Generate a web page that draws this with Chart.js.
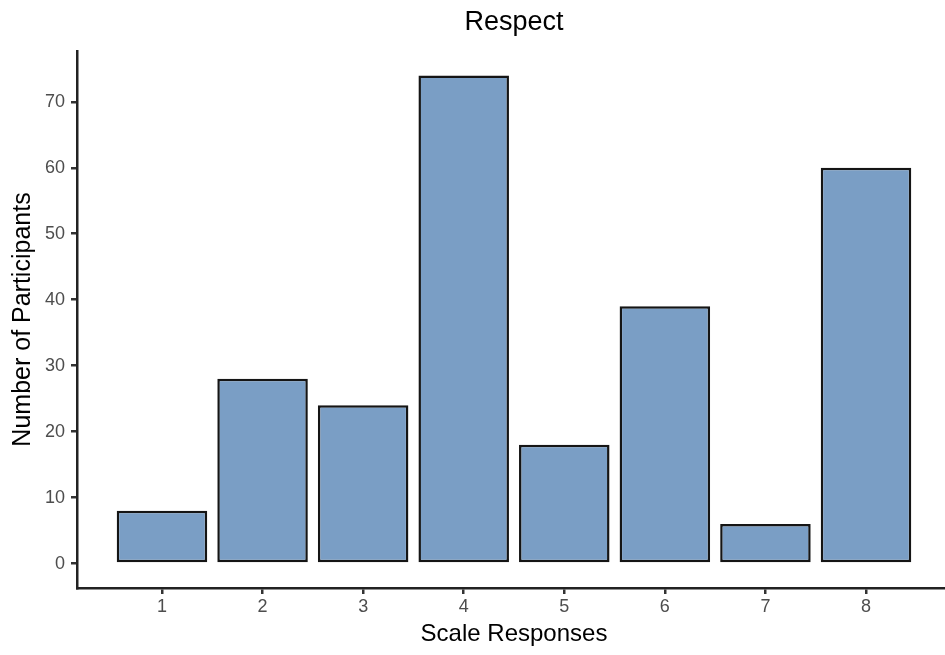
<!DOCTYPE html>
<html>
<head>
<meta charset="utf-8">
<script src="https://cdn.jsdelivr.net/npm/chart.js@4.4.1/dist/chart.umd.min.js"></script>
<style>
  html, body { margin: 0; padding: 0; overflow: hidden; background: #ffffff; width: 945px; height: 655px; }
  #wrap { width: 951px; height: 655px; }
</style>
</head>
<body>
<div id="wrap"><canvas id="c" width="951" height="655"></canvas></div>
<script>
// ---- data ----
const categories = [1, 2, 3, 4, 5, 6, 7, 8];
const counts = [8, 28, 24, 74, 18, 39, 6, 60];
const yTicks = [0, 10, 20, 30, 40, 50, 60, 70];
const titleText = 'Respect';
const xTitle = 'Scale Responses';
const yTitle = 'Number of Participants';

const FONT = "'Liberation Sans', Arial, Helvetica, sans-serif";
const points = categories.map((c, i) => ({ x: c, y: counts[i] }));

new Chart(document.getElementById('c'), {
  type: 'bar',
  data: {
    datasets: [{
      data: points,
      backgroundColor: '#7a9ec5',
      borderColor: '#151515',
      borderWidth: 2.5,
      borderSkipped: false,
      barPercentage: 0.9,
      categoryPercentage: 1.0
    }]
  },
  options: {
    responsive: false,
    animation: false,
    devicePixelRatio: 1,
    layout: { padding: 0 },
    plugins: {
      legend: { display: false },
      tooltip: { enabled: false },
      title: {
        display: true,
        text: titleText,
        fullSize: false,
        color: '#000000',
        font: { family: FONT, size: 27, weight: 'normal' },
        padding: { top: 6, bottom: 12.6 }
      }
    },
    scales: {
      x: {
        type: 'linear',
        min: 0.155,
        max: 8.845,
        offset: false,
        afterBuildTicks: s => { s.ticks = categories.map(v => ({ value: v })); },
        afterFit: s => { s.height = 67; },
        ticks: {
          color: '#4d4d4d',
          font: { family: FONT, size: 18 },
          padding: 2,
          maxRotation: 0,
          callback: v => String(v)
        },
        grid: {
          display: true,
          offset: false,
          drawOnChartArea: false,
          drawTicks: true,
          tickLength: 6,
          color: '#333333',
          lineWidth: 2.5
        },
        border: { display: true, color: '#222222', width: 2.5 },
        title: {
          display: true,
          text: xTitle,
          color: '#000000',
          font: { family: FONT, size: 24 },
          padding: { top: 0, bottom: 6.6 }
        }
      },
      y: {
        type: 'linear',
        min: -3.7,
        max: 77.7,
        afterBuildTicks: s => { s.ticks = yTicks.map(v => ({ value: v })); },
        afterFit: s => { s.width = 77; },
        ticks: {
          color: '#4d4d4d',
          font: { family: FONT, size: 18 },
          padding: 6
        },
        grid: {
          display: true,
          drawOnChartArea: false,
          drawTicks: true,
          tickLength: 6,
          color: '#333333',
          lineWidth: 2.5
        },
        border: { display: true, color: '#222222', width: 2.5 },
        title: {
          display: true,
          text: yTitle,
          color: '#000000',
          font: { family: FONT, size: 25 },
          padding: { top: 8, bottom: 0 }
        }
      }
    }
  }
});
</script>
</body>
</html>
